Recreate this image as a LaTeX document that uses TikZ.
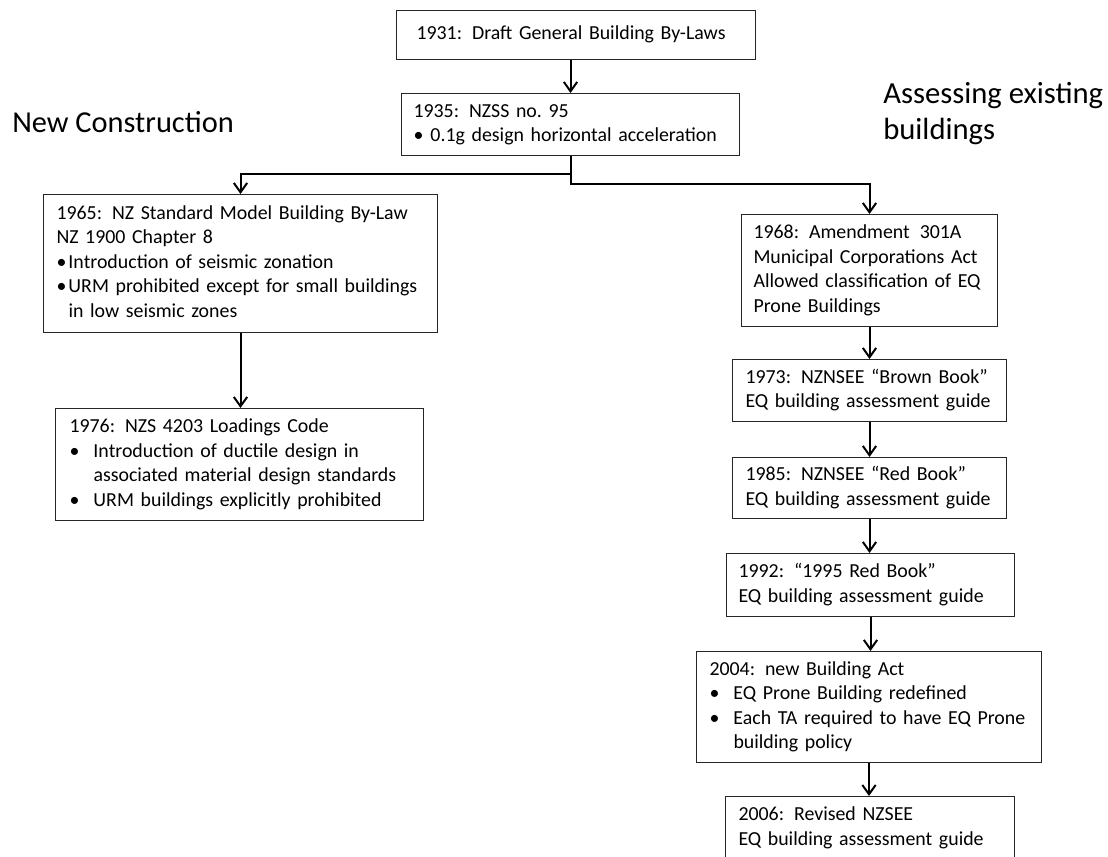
\documentclass[tikz,border=0pt]{standalone}
\usepackage{fontspec}
\setmainfont{Carlito}
\usetikzlibrary{arrows.meta}
\newcommand\boxtext{\fontsize{14.9pt}{18.4pt}\selectfont}
\newcommand\itm[2]{\makebox[#1][l]{\textbullet}#2}
\newcommand\cnt[2]{\hspace*{#1}#2}
\newcommand\gap{\hspace{0.5em}}
\newcommand\lines[2]{\hspace*{#1}\begin{tabular}{@{}l@{}}#2\end{tabular}}
\begin{document}
\begin{tikzpicture}[x=0.75pt,y=-0.75pt,
  box/.style={draw=black!85, line width=0.75pt, anchor=north west, align=left,
    inner xsep=0pt, inner ysep=0pt, font=\boxtext},
  conn/.style={line width=1.5pt, -{Straight Barb[length=7pt,width=10pt,line width=1.5pt]}},
  title/.style={inner sep=0pt, align=left, anchor=base west}]
\useasboundingbox (0,0) rectangle (1108,857);

\node[title, font=\fontsize{22.8pt}{27pt}\selectfont] (tnew) at (12,132) {New Construction};
\node[title, font=\fontsize{23pt}{27pt}\selectfont] (tass) at (883,139) {Assessing existing\\buildings};

\node[box, text width=269.25pt, minimum height=36.75pt] (A) at (396,10)
  {\lines{15pt}{1931: Draft General Building By-Laws}};
\node[box, text width=253.5pt, minimum height=46.5pt] (B) at (401,93)
  {\lines{9pt}{1935:\gap NZSS no.\ 95\\\itm{12.75pt}{0.1g design horizontal acceleration}}};
\node[box, text width=295.5pt, minimum height=103.5pt] (C) at (43,194)
  {\lines{9.75pt}{1965:\gap NZ Standard Model Building By-Law\\
   NZ 1900 Chapter 8\\
   \itm{9pt}{Introduction of seismic zonation}\\
   \itm{9pt}{URM prohibited except for small buildings}\\
   \cnt{9pt}{in low seismic zones}}};
\node[box, text width=276pt, minimum height=84pt] (D) at (55,408)
  {\lines{10.5pt}{1976:\gap NZS 4203 Loadings Code\\
   \itm{18pt}{Introduction of ductile design in}\\
   \cnt{18pt}{associated material design standards}\\
   \itm{18pt}{URM buildings explicitly prohibited}}};
\node[box, text width=192pt, minimum height=84pt] (E) at (741,214)
  {\lines{9pt}{1968:\gap Amendment\gap 301A\\
   Municipal Corporations Act\\
   Allowed classification of EQ\\
   Prone Buildings}};
\node[box, text width=205.5pt, minimum height=46.5pt] (F) at (732,359)
  {\lines{9.75pt}{1973: NZNSEE “Brown Book”\\EQ building assessment guide}};
\node[box, text width=205.5pt, minimum height=45.75pt] (G) at (732,457)
  {\lines{9.75pt}{1985:\gap NZNSEE “Red Book”\\EQ building assessment guide}};
\node[box, text width=216pt, minimum height=47.25pt] (H) at (726,553)
  {\lines{9pt}{1992:\gap “1995 Red Book”\\EQ building assessment guide}};
\node[box, text width=258.75pt, minimum height=83.25pt] (I) at (696,651)
  {\lines{9.75pt}{2004:\gap new Building Act\\
   \itm{18pt}{EQ Prone Building redefined}\\
   \itm{18pt}{Each TA required to have EQ Prone}\\
   \cnt{18pt}{building policy}}};
\node[box, text width=216.75pt, minimum height=47.25pt] (J) at (725,796)
  {\lines{9.75pt}{2006:\gap Revised NZSEE\\EQ building assessment guide}};

\draw[conn] (A.south -| B.north) -- (B.north);
\draw[conn] (B.south) -- ++(0,18) -| (C.north);
\draw[conn] (B.south) -- ++(0,28) -| (E.north);
\draw[conn] (C.south) -- (C.south |- D.north);
\draw[conn] (E.south) -- (E.south |- F.north);
\draw[conn] (F.south) -- (F.south |- G.north);
\draw[conn] (G.south) -- (G.south |- H.north);
\draw[conn] (H.south) -- (H.south |- I.north);
\draw[conn] (I.south) -- (I.south |- J.north);
\end{tikzpicture}
\end{document}
